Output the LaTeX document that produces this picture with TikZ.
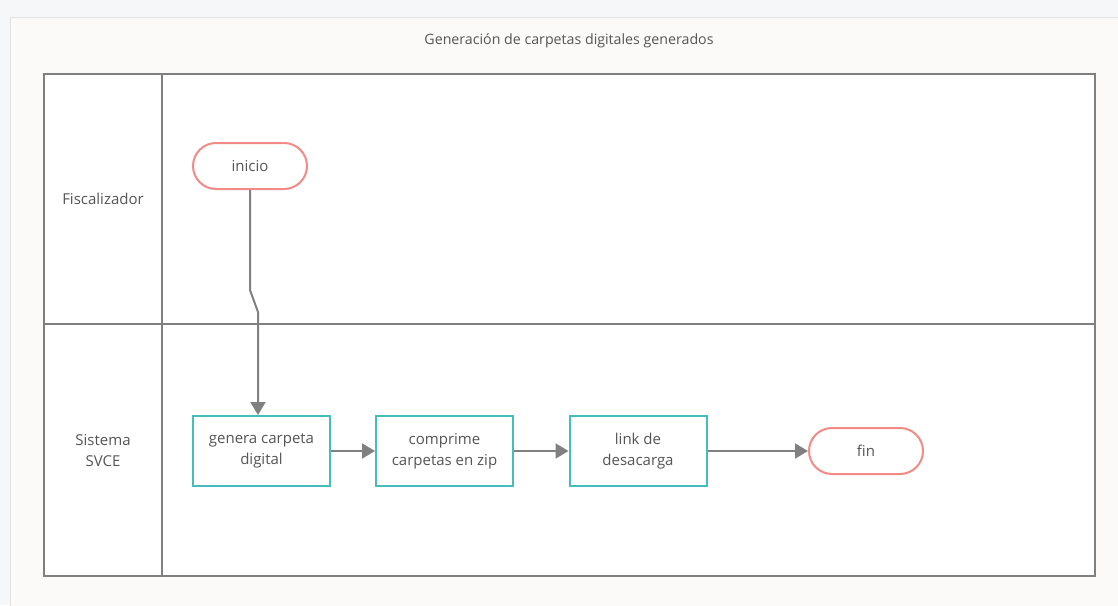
\documentclass[tikz,border=0pt]{standalone}
\usepackage{fontspec}
\setmainfont{Open Sans}
\usetikzlibrary{arrows.meta,shapes.misc}
\definecolor{pagebg}{HTML}{F6F7F9}
\definecolor{framebg}{HTML}{FBFAF9}
\definecolor{framebd}{HTML}{E2E2E2}
\definecolor{lanebd}{HTML}{7F7F7F}
\definecolor{teal}{HTML}{45BDBD}
\definecolor{pink}{HTML}{F28A86}
\definecolor{txt}{HTML}{555555}
\definecolor{conn}{HTML}{808080}
\tikzset{
  lane/.style={draw=lanebd, line width=1.6pt},
  stepbox/.style={draw=teal, line width=2pt, fill=white, minimum width=137pt, minimum height=70pt, align=center, font=\fontsize{15}{21}\selectfont, text=txt, inner sep=0pt},
  term/.style={draw=pink, line width=2pt, fill=white, rounded rectangle, minimum width=114pt, minimum height=46pt, font=\fontsize{15}{21}\selectfont, text=txt, inner sep=0pt},
  lbl/.style={font=\fontsize{15}{21}\selectfont, text=txt, align=center},
  flow/.style={draw=conn, line width=2pt, -{Triangle[length=13pt,width=15pt]}}
}
\begin{document}
\begin{tikzpicture}[x=1pt,y=-1pt]
\useasboundingbox (0,0) rectangle (1118,605);
\fill[pagebg] (0,0) rectangle (1118,605);
\fill[framebg, draw=framebd, line width=1pt] (10,17) rectangle (1125,612);
\node[lbl, font=\fontsize{14.2}{18}\selectfont] (title) at (569,41) {Generación de carpetas digitales generados};
% pool
\fill[white] (44,74) rectangle (1095,576);
\draw[lane] (44,74) rectangle (1095,576);
\draw[lane] (162,74) -- (162,576);
\draw[lane] (44,324) -- (1095,324);
\node[lbl] (l1) at (103,199) {Fiscalizador};
\node[lbl] (l2) at (103,451) {Sistema\\SVCE};
% nodes
\node[term] (inicio) at (250,166) {inicio};
\node[stepbox] (gen) at (261.5,451) {genera carpeta\\digital};
\node[stepbox] (comp) at (444.5,451) {comprime\\carpetas en zip};
\node[stepbox] (link) at (638,451) {link de\\desacarga};
\node[term] (fin) at (866,451) {fin};
% connectors
\coordinate (j1) at (250,290);
\coordinate (j2) at (258,312);
\draw[flow] (inicio.south) -- (j1) -- (j2) -- (gen.north -| j2);
\draw[flow] (gen) -- (comp);
\draw[flow] (comp) -- (link);
\draw[flow] (link) -- (fin);
\end{tikzpicture}
\end{document}
